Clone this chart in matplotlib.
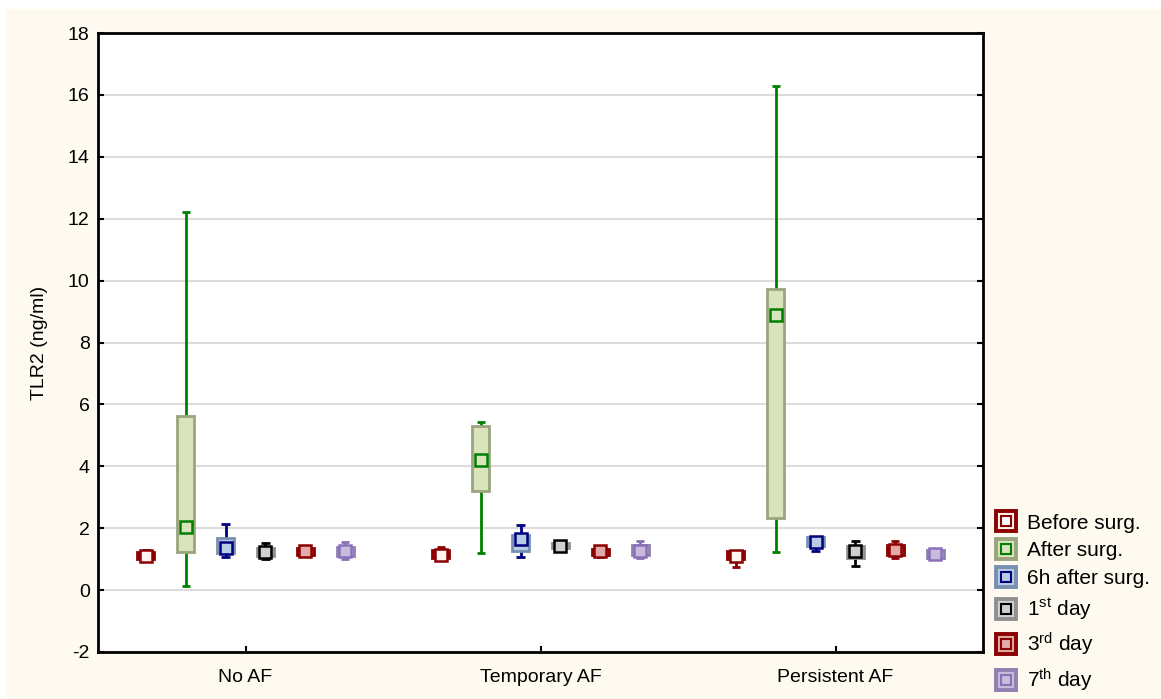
import matplotlib
matplotlib.use("Agg")
import matplotlib.pyplot as plt
from matplotlib.lines import Line2D
from matplotlib.legend_handler import HandlerTuple
from matplotlib.patches import Rectangle

plt.rcParams["font.family"] = ["Liberation Sans", "DejaVu Sans"]
plt.rcParams["mathtext.fontset"] = "custom"
plt.rcParams["mathtext.rm"] = "Liberation Sans"
plt.rcParams["mathtext.it"] = "Liberation Sans"
plt.rcParams["axes.unicode_minus"] = False

groups = ["No AF", "Temporary AF", "Persistent AF"]
series = ["Before surg.", "After surg.", "6h after surg.",
          "1$^{\\mathrm{st}}$ day", "3$^{\\mathrm{rd}}$ day", "7$^{\\mathrm{th}}$ day"]

# per series: [No AF, Temporary AF, Persistent AF]
medians = [
    [1.10, 1.15, 1.10],
    [2.04, 4.20, 8.88],
    [1.36, 1.65, 1.57],
    [1.23, 1.43, 1.25],
    [1.25, 1.25, 1.30],
    [1.25, 1.27, 1.17],
]
q1 = [
    [1.00, 1.03, 1.00],
    [1.23, 3.20, 2.33],
    [1.20, 1.27, 1.42],
    [1.10, 1.35, 1.03],
    [1.12, 1.15, 1.15],
    [1.10, 1.12, 1.05],
]
q3 = [
    [1.22, 1.28, 1.25],
    [5.62, 5.30, 9.72],
    [1.68, 1.78, 1.72],
    [1.36, 1.52, 1.42],
    [1.35, 1.32, 1.45],
    [1.40, 1.45, 1.30],
]
lows = [
    [0.98, 0.98, 0.74],
    [0.13, 1.19, 1.23],
    [1.07, 1.07, 1.25],
    [1.00, 1.30, 0.78],
    [1.10, 1.08, 1.03],
    [1.00, 1.03, 1.00],
]
highs = [
    [1.30, 1.38, 1.25],
    [12.21, 5.43, 16.28],
    [2.13, 2.10, 1.72],
    [1.52, 1.52, 1.60],
    [1.35, 1.35, 1.60],
    [1.55, 1.60, 1.30],
]

box_face = ["#a82020", "#d9e3bc", "#b8cce4", "#c8c8c8", "#c85050", "#c8bcdc"]
box_edge = ["#8b0000", "#9aa57f", "#7890b0", "#909090", "#8b0000", "#9080b0"]
line_col = ["#8b0000", "#008000", "#000080", "#000000", "#8b0000", "#8a70b8"]
leg_fill = ["#fff4f0", "#d9e3bc", "#b8cce4", "#d0d0d0", "#e3a8a8", "#c8bcdc"]

fig = plt.figure(figsize=(11.61, 6.99), dpi=100)
fig.patch.set_facecolor("white")
fig.add_artist(Rectangle((6 / 1161, 0), 1, 1 - 9 / 699, transform=fig.transFigure,
                         facecolor="#fffaf0", edgecolor="none", zorder=-10))
ax = fig.add_axes([98 / 1161, 47 / 699, 885 / 1161, 619 / 699])
ax.set_facecolor("white")

step = 0.135
bw = 0.058
cap = 0.028
for i in range(len(series)):
    xs = [g + (i - 2.5) * step for g in range(len(groups))]
    ax.vlines(xs, lows[i], highs[i], color=line_col[i], lw=2, zorder=2)
    for x, lo, hi in zip(xs, lows[i], highs[i]):
        ax.hlines([lo, hi], x - cap / 2, x + cap / 2, color=line_col[i], lw=2, zorder=2)
    heights = [b - a for a, b in zip(q1[i], q3[i])]
    ax.bar(xs, heights, bottom=q1[i], width=bw, color=box_face[i],
           edgecolor=box_edge[i], linewidth=2, zorder=3)
    ax.plot(xs, medians[i], ls="none", marker="s", ms=8, mfc=leg_fill[i],
            mec=line_col[i], mew=1.8, zorder=4)

ax.set_xlim(-0.5, 2.5)
ax.set_ylim(-2, 18)
ax.set_yticks(range(-2, 19, 2))
ax.set_xticks(range(len(groups)))
ax.set_xticklabels(groups)
ax.yaxis.grid(True, color="#dcdcdc", lw=1.5)
ax.set_axisbelow(True)
ax.tick_params(axis="both", labelsize=14, direction="in", length=4, width=1.5,
               right=True, pad=6)
ax.tick_params(axis="x", pad=12)
for s in ax.spines.values():
    s.set_linewidth(2)
ax.set_ylabel("TLR2 (ng/ml)", fontsize=14, labelpad=14)

handles = []
for i in range(len(series)):
    outer = Line2D([], [], ls="none", marker="s", ms=14, mfc=leg_fill[i],
                   mec=box_edge[i], mew=2.8)
    inner = Line2D([], [], ls="none", marker="s", ms=6.5,
                   mfc="white" if i == 0 else leg_fill[i],
                   mec=line_col[i], mew=1.5)
    handles.append((outer, inner))
fig.legend(handles, series, handler_map={tuple: HandlerTuple(ndivide=1, pad=0)},
           loc="lower left", bbox_to_anchor=(985 / 1161, -0.008), frameon=False,
           fontsize=15, handlelength=1.0, handletextpad=0.5, labelspacing=0.42,
           borderaxespad=0.1)

fig.savefig("out.png", dpi=100, facecolor=fig.get_facecolor())
